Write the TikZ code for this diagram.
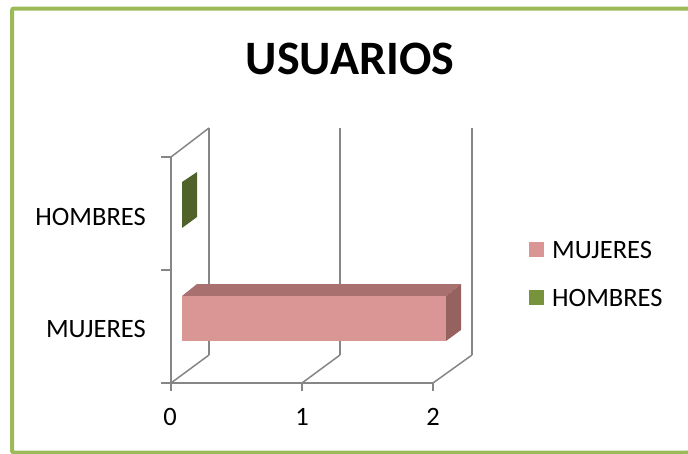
\documentclass[tikz,border=0pt]{standalone}
\usepackage{fontspec}
\setmainfont{Carlito}
\definecolor{frameG}{RGB}{155,187,89}
\definecolor{gridG}{RGB}{134,134,134}
\definecolor{pinkF}{RGB}{217,150,148}
\definecolor{pinkT}{RGB}{168,112,110}
\definecolor{pinkS}{RGB}{150,98,96}
\definecolor{oliveD}{RGB}{79,98,40}
\definecolor{oliveL}{RGB}{119,147,60}
\begin{document}
\begin{tikzpicture}[x=1pt,y=-1pt,
  grid/.style={draw=gridG,line width=1.5pt},
  lab/.style={inner sep=0pt,font=\fontsize{26.5}{26.5}\selectfont},
  num/.style={inner sep=0pt,font=\fontsize{26.5}{26.5}\selectfont}]
\useasboundingbox (0,0) rectangle (688,453);
\clip (0,0) rectangle (688,453);
\fill[white] (0,0) rectangle (688,453);
\draw[frameG,line width=4pt,rounded corners=2pt] (12,8.5) rectangle (690,452.5);
% title
\node[inner sep=0pt,font=\fontsize{48}{48}\bfseries,anchor=base] (title) at (350,74) {USUARIOS};
% walls
\coordinate (fl0) at (171,383); \coordinate (fl1) at (302,383); \coordinate (fl2) at (433,383);
\coordinate (bk0) at (209,355); \coordinate (bk1) at (340,355); \coordinate (bk2) at (472,355);
\coordinate (bt0) at (209,128); \coordinate (bt1) at (340,128); \coordinate (bt2) at (472,128);
\coordinate (lt) at (171,157);
\draw[grid] (bk0) -- (bt0);
\draw[grid] (bk1) -- (bt1);
\draw[grid] (bk2) -- (bt2);
\draw[grid] (lt) -- (bt0);
\draw[grid] (fl0) -- (bk0);
\draw[grid] (fl1) -- (bk1);
\draw[grid] (fl2) -- (bk2);
% axes
\draw[grid] (lt) -- (fl0) -- (fl2);
\draw[grid] (161,157) -- (lt);
\draw[grid] (161,270) -- (171,270);
\draw[grid] (161,383) -- (fl0);
\draw[grid] (fl0) -- ++(0,8);
\draw[grid] (fl1) -- ++(0,8);
\draw[grid] (fl2) -- ++(0,8);
% pink bar
\fill[pinkT] (182,296) -- (197,284) -- (461,284) -- (446,296) -- cycle;
\fill[pinkS] (446,296) -- (461,284) -- (461,330) -- (446,341) -- cycle;
\fill[pinkF] (182,296) rectangle (446,341);
% green bar (zero width, side visible)
\fill[oliveD] (182,182) -- (197,172) -- (197,217) -- (182,228) -- cycle;
% labels
\node[lab,anchor=base east] (lh) at (146,225) {HOMBRES};
\node[lab,anchor=base east] (lm) at (146,337) {MUJERES};
\node[num,anchor=base] (n0) at (170,425.5) {0};
\node[num,anchor=base] (n1) at (302,425.5) {1};
\node[num,anchor=base] (n2) at (433,425.5) {2};
% legend
\fill[pinkF] (529,242) rectangle (544,257);
\fill[oliveL] (529,290) rectangle (544,305);
\node[lab,anchor=base west] (lgm) at (552,258) {MUJERES};
\node[lab,anchor=base west] (lgh) at (552,306) {HOMBRES};
\end{tikzpicture}
\end{document}
